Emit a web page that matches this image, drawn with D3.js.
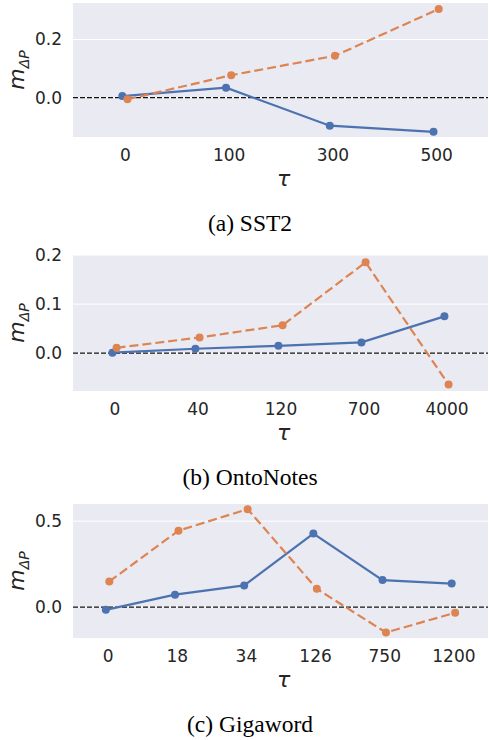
<!DOCTYPE html>
<html>
<head>
<meta charset="utf-8">
<script src="https://cdn.jsdelivr.net/npm/d3@7"></script>
<style>
  body { margin: 0; background: #fff; }
  .tick text { font-family: "DejaVu Sans", sans-serif; font-size: 17px; fill: #262626; }
  .axis path, .axis line { display: none; }
</style>
</head>
<body>
<div id="chart"></div>
<script>
// ---- data ----
const sst2Ticks = ["0", "100", "300", "500"];
const sst2Blue = [0.005, 0.034, -0.097, -0.118];
const sst2Orange = [-0.006, 0.077, 0.144, 0.305];
const sst2YTicks = [0.0, 0.2];

const ontoTicks = ["0", "40", "120", "700", "4000"];
const ontoBlue = [0.001, 0.009, 0.015, 0.022, 0.075];
const ontoOrange = [0.011, 0.032, 0.057, 0.185, -0.064];
const ontoYTicks = [0.0, 0.1, 0.2];

const gigaTicks = ["0", "18", "34", "126", "750", "1200"];
const gigaBlue = [-0.016, 0.072, 0.126, 0.428, 0.157, 0.137];
const gigaOrange = [0.149, 0.445, 0.570, 0.106, -0.148, -0.033];
const gigaYTicks = [0.0, 0.5];

const captions = ["(a) SST2", "(b) OntoNotes", "(c) Gigaword"];

// ---- layout ----
const width = 489, height = 740;
const left = 73, right = 488;
const blueColor = "#4c72b0", orangeColor = "#dd8452";

const panels = [
  { ticks: sst2Ticks, blue: sst2Blue, orange: sst2Orange, yTicks: sst2YTicks,
    yDomain: [-0.136, 0.326], top: 3, bottom: 137, caption: captions[0] },
  { ticks: ontoTicks, blue: ontoBlue, orange: ontoOrange, yTicks: ontoYTicks,
    yDomain: [-0.077, 0.2], top: 255, bottom: 391, caption: captions[1] },
  { ticks: gigaTicks, blue: gigaBlue, orange: gigaOrange, yTicks: gigaYTicks,
    yDomain: [-0.18, 0.60], top: 504, bottom: 638, caption: captions[2] }
];

const svg = d3.select("#chart")
  .append("svg")
  .attr("width", width)
  .attr("height", height);

panels.forEach(p => {
  const g = svg.append("g");

  const x = d3.scalePoint()
    .domain(p.ticks)
    .range([left, right])
    .padding(0.5);
  const dodge = 0.025 * x.step();

  const y = d3.scaleLinear()
    .domain(p.yDomain)
    .range([p.bottom, p.top]);

  // background
  g.append("rect")
    .attr("x", left)
    .attr("y", p.top)
    .attr("width", right - left)
    .attr("height", p.bottom - p.top)
    .attr("fill", "#eaeaf2");

  // horizontal grid
  g.selectAll(".grid")
    .data(p.yTicks)
    .enter()
    .append("line")
    .attr("x1", left)
    .attr("x2", right)
    .attr("y1", d => y(d))
    .attr("y2", d => y(d))
    .attr("stroke", "#fff")
    .attr("stroke-width", 1);

  // zero line
  g.append("line")
    .attr("x1", left)
    .attr("x2", right)
    .attr("y1", y(0))
    .attr("y2", y(0))
    .attr("stroke", "#111")
    .attr("stroke-width", 1.3)
    .attr("stroke-dasharray", "5,2");

  // axes
  g.append("g")
    .attr("class", "axis")
    .attr("transform", `translate(${left},0)`)
    .call(d3.axisLeft(y).tickValues(p.yTicks).tickFormat(d3.format(".1f")).tickSize(0).tickPadding(11));

  g.append("g")
    .attr("class", "axis")
    .attr("transform", `translate(0,${p.bottom})`)
    .call(d3.axisBottom(x).tickSize(0).tickPadding(12));

  // series
  const series = [
    { values: p.blue, color: blueColor, dash: null, off: -dodge },
    { values: p.orange, color: orangeColor, dash: "9,4", off: dodge }
  ];
  series.forEach(s => {
    const pts = p.ticks.map((t, i) => [x(t) + s.off, y(s.values[i])]);
    g.append("path")
      .attr("d", d3.line()(pts))
      .attr("fill", "none")
      .attr("stroke", s.color)
      .attr("stroke-width", 2.2)
      .attr("stroke-dasharray", s.dash);
    g.selectAll(null)
      .data(pts)
      .enter()
      .append("circle")
      .attr("cx", d => d[0])
      .attr("cy", d => d[1])
      .attr("r", 4)
      .attr("fill", s.color);
  });

  // y label
  const ylab = g.append("text")
    .attr("transform", `translate(24,${(p.top + p.bottom) / 2}) rotate(-90)`)
    .attr("text-anchor", "middle")
    .attr("fill", "#262626")
    .style("font-family", "DejaVu Sans, sans-serif");
  ylab.append("tspan")
    .attr("font-size", 22)
    .attr("font-style", "italic")
    .text("m");
  ylab.append("tspan")
    .attr("font-size", 14)
    .attr("font-style", "italic")
    .attr("dy", 5)
    .text("ΔP");

  // x label
  g.append("text")
    .attr("x", (left + right) / 2 + 3)
    .attr("y", p.bottom + 49)
    .attr("text-anchor", "middle")
    .attr("fill", "#262626")
    .attr("font-size", 22)
    .attr("font-style", "italic")
    .style("font-family", "DejaVu Sans, sans-serif")
    .text("τ");

  // caption
  g.append("text")
    .attr("x", 250)
    .attr("y", p.bottom + 94)
    .attr("text-anchor", "middle")
    .attr("fill", "#000")
    .attr("font-size", 23.5)
    .style("font-family", "Liberation Serif, Times New Roman, serif")
    .text(p.caption);
});
</script>
</body>
</html>
